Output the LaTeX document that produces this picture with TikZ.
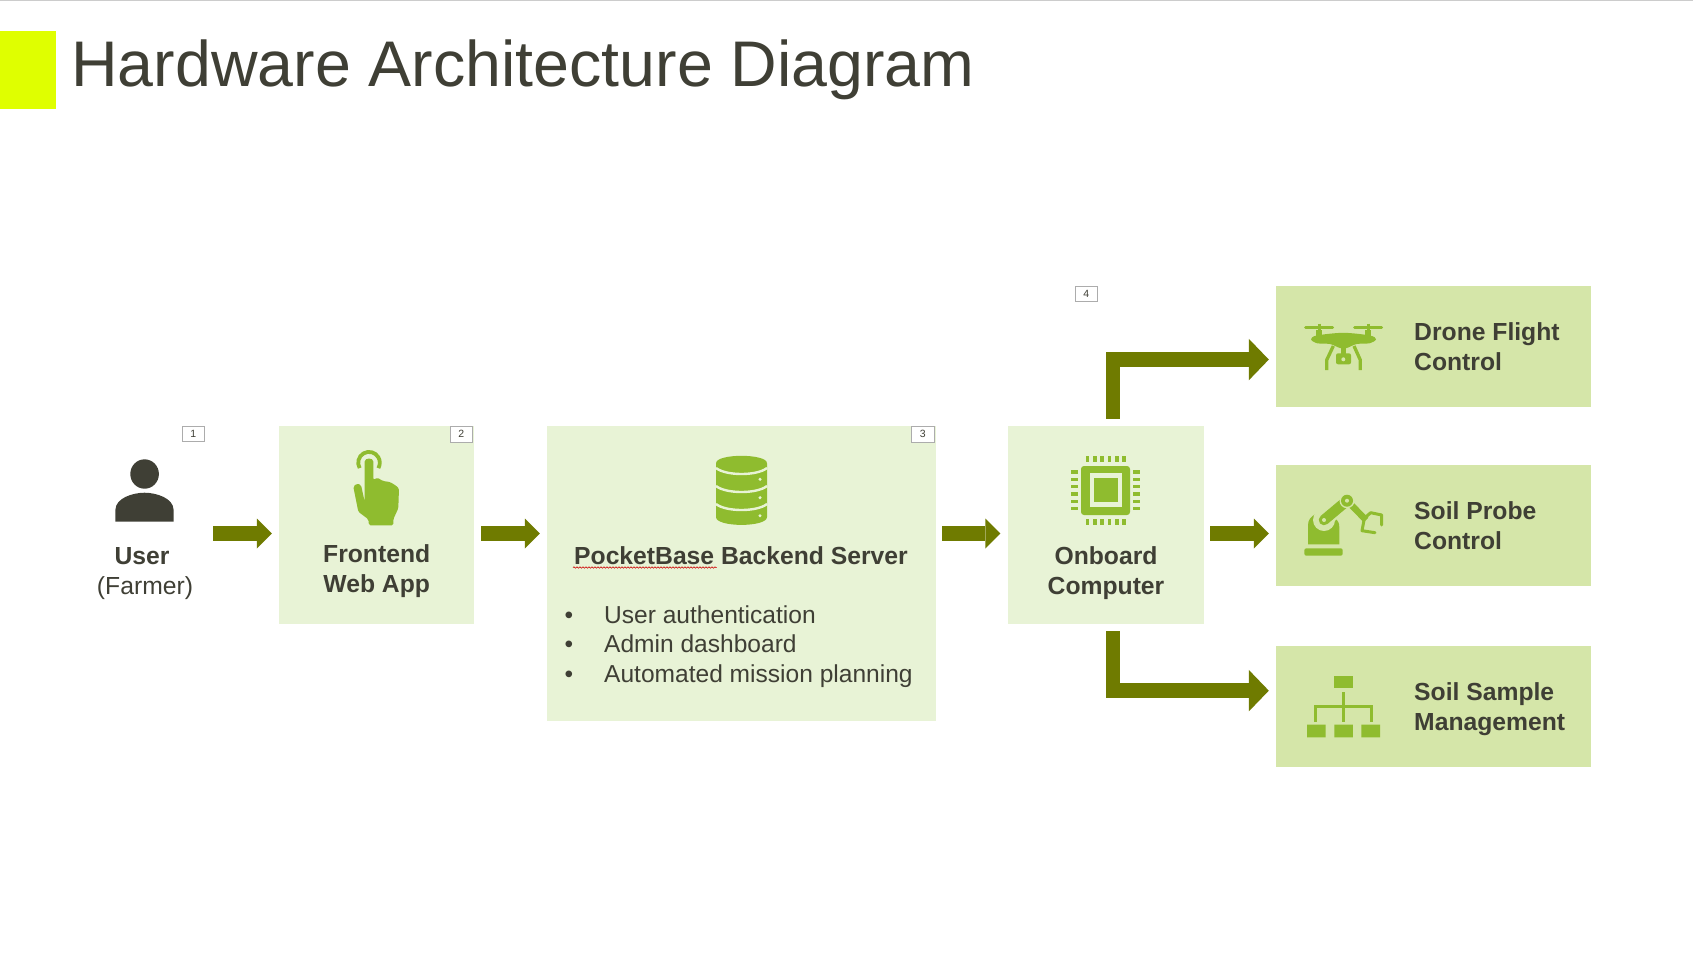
\documentclass[tikz,border=0pt]{standalone}
\usepackage{fontspec}
\setmainfont{Liberation Sans}
\usetikzlibrary{arrows.meta,positioning,calc,decorations.pathmorphing}

\definecolor{inktext}{HTML}{3F3F35}
\definecolor{accentyellow}{HTML}{DFFF00}
\definecolor{arrowolive}{HTML}{6F7B00}
\definecolor{iconleaf}{HTML}{8FBC2F}
\definecolor{panelpale}{HTML}{E8F3D6}
\definecolor{paneldeep}{HTML}{D5E6A9}

\begin{document}
\begin{tikzpicture}[
  x=1pt, y=-1pt,
  panel/.style={fill=panelpale, inner sep=0pt, minimum width=#1, minimum height=197.7pt},
  taskbox/.style={fill=paneldeep, inner sep=0pt, minimum width=315pt, minimum height=120.7pt},
  tagbox/.style={draw=gray!65, fill=white, inner sep=0pt, minimum width=22.5pt, minimum height=15.7pt, font=\fontsize{10.5}{12}\selectfont, text=inktext},
  headtext/.style={font=\fontsize{24.7}{30}\selectfont\bfseries, text=inktext, inner sep=0pt},
  listtext/.style={font=\fontsize{24.55}{29.85}\selectfont, text=inktext, inner sep=0pt},
  blockarr/.style={line width=15pt, arrowolive, -{Triangle[width=30pt,length=15pt,line width=0pt]}},
  elbowarr/.style={line width=14.4pt, arrowolive, -{Triangle[width=41.5pt,length=20pt,line width=0pt]}}
]
\useasboundingbox (0,0) rectangle (1693,954);

\fill[gray!40] (0,0) rectangle (1693,1);
\fill[accentyellow] (0,31) rectangle (56,109);
\node[anchor=base west, inner sep=0pt, text=inktext, font=\fontsize{64.5}{70}\selectfont] (title) at (71.2,86.5) {Hardware Architecture Diagram};

% boxes
\node[panel=195pt] (frontendbox) at (376.5,525) {};
\node[panel=389pt, minimum height=295pt] (backendbox) at (741.5,573.5) {};
\node[panel=196pt] (onboardbox) at (1106,525) {};
\node[taskbox] (dronebox) at (1433.5,346.35) {};
\node[taskbox, below=58.3pt of dronebox] (probebox) {};
\node[taskbox, below=59.8pt of probebox] (samplebox) {};

\node[tagbox] (tagone) at (193.3,433.8) {1};
\node[tagbox, below left=0pt and 1.5pt of frontendbox.north east] (tagtwo) {2};
\node[tagbox, below left=0pt and 2pt of backendbox.north east] (tagthree) {3};
\node[tagbox] (tagfour) at (1086.3,293.8) {4};

% labels
\node[headtext, anchor=base, align=center] (user) at (145,594) {\hspace*{-6pt}User\\\mdseries(Farmer)};
\node[headtext, anchor=base, align=center] (frontend) at (376.7,592.7) {Frontend\\Web App};
\node[headtext, anchor=base] (backend) at (741,564) {PocketBase Backend Server};
\node[listtext, anchor=base west, align=left] (features) at (564.5,682.7)
  {\makebox[39.5pt][l]{\textbullet}User authentication\\\makebox[39.5pt][l]{\textbullet}Admin dashboard\\\makebox[39.5pt][l]{\textbullet}Automated mission planning};
\node[headtext, anchor=base, align=center] (onboard) at (1106,594) {Onboard\\Computer};
\node[headtext, anchor=base west, align=left] (drone) at (1414,370.3) {Drone Flight\\Control};
\node[headtext, anchor=base west, align=left] (probe) at (1414,549.3) {Soil Probe\\Control};
\node[headtext, anchor=base west, align=left] (sample) at (1414,730.3) {Soil Sample\\Management};
\draw[red!80!black, line width=0.6pt, decorate, decoration={snake, segment length=3pt, amplitude=0.7pt}] (573,567.5) -- (716.5,567.5);

% connectors
\coordinate (flow) at (0,533.5);
\draw[blockarr, shorten <=20pt, shorten >=7pt] (user.east |- flow) -- (frontendbox.west |- flow);
\draw[blockarr, shorten <=7pt, shorten >=7pt] (frontendbox.east |- flow) -- (backendbox.west |- flow);
\draw[blockarr, shorten <=6pt, shorten >=7.5pt] (backendbox.east |- flow) -- (onboardbox.west |- flow);
\draw[blockarr, shorten <=6pt, shorten >=7pt] (onboardbox.east |- flow) -- (probebox.west |- flow);
\draw[elbowarr, shorten <=7.3pt, shorten >=7pt] ([xshift=7pt]onboardbox.north) |- ([yshift=-13.2pt]dronebox.west);
\draw[elbowarr, shorten <=7.3pt, shorten >=7pt] ([xshift=7pt]onboardbox.south) |- ([yshift=16pt]samplebox.west);

% user icon
\fill[inktext] (144.6,474) ellipse [x radius=14.3, y radius=14.7];
\fill[inktext] (115.4,521.7) -- (115.4,510) .. controls (115.4,498) and (133,492.7) .. (144.5,492.7) .. controls (156,492.7) and (173.6,498) .. (173.6,510) -- (173.6,521.7) -- cycle;

% hand icon
\draw[iconleaf, line width=3.8pt] (359.65,468.1) arc [start angle=-210, end angle=30, radius=10.8];
\fill[panelpale] (369,464) circle [radius=6.2];
\fill[iconleaf, rounded corners=1.5pt] (364.7,501.7) -- (364.7,463) .. controls (364.7,457.5) and (373.3,457.5) .. (373.3,463) -- (373.3,480) -- (377.3,477.7) -- (383,481) -- (390,482) -- (395,485) -- (399,488.3) -- (398.3,508.3) -- (393.3,519.3) -- (393.3,525.3) -- (369,525.3) -- (368.3,519.3) -- (358.3,511.7) -- (353.3,486.7) -- (357,483.5) -- (361,485) -- cycle;

% database icon
\fill[iconleaf] (716,463.3) .. controls (716,453.3) and (767,453.3) .. (767,463.3) -- (767,517) .. controls (767,527.5) and (716,527.5) .. (716,517) -- cycle;
\draw[panelpale, line width=2.4pt] (716,468) .. controls (726,476) and (757,476) .. (767,468);
\draw[panelpale, line width=2.4pt] (716,486) .. controls (726,494) and (757,494) .. (767,486);
\draw[panelpale, line width=2.4pt] (716,504) .. controls (726,512) and (757,512) .. (767,504);
\fill[panelpale] (760,479.3) circle [radius=1.7] (760,497.7) circle [radius=1.7] (760,515.7) circle [radius=1.7];

% chip icon
\fill[iconleaf, rounded corners=3pt] (1081,466) rectangle (1130,515);
\fill[panelpale] (1090,473.3) rectangle (1122,506.7);
\fill[iconleaf] (1094,478.3) rectangle (1117.6,502.3);
\foreach \i in {0,...,5} {
  \fill[iconleaf] ({1085.7+7.35*\i},456) rectangle ++(3.7,6.3);
  \fill[iconleaf] ({1085.7+7.35*\i},518.7) rectangle ++(3.7,6.3);
  \fill[iconleaf] (1070.8,{470.3+7.33*\i}) rectangle ++(6.9,3.4);
  \fill[iconleaf] (1133,{470.3+7.33*\i}) rectangle ++(6.9,3.4);
}

% drone icon
\draw[iconleaf, line width=3pt, line cap=round] (1305.5,327.3) -- (1332.5,327.3) (1354.5,327.3) -- (1381.5,327.3);
\draw[iconleaf, line width=3pt] (1319,323.5) -- (1319,331) (1368,323.5) -- (1368,331);
\draw[iconleaf, line width=6pt] (1319,330) -- (1319,337) (1368,330) -- (1368,337);
\fill[iconleaf] plot[smooth cycle] coordinates {(1311,339.3) (1316.7,335.5) (1343.3,332.8) (1370,335.5) (1376,339.3) (1370,343.2) (1356.7,344) (1346.7,348) (1340,348) (1330,344) (1316.7,343.2)};
\draw[iconleaf, line width=3.3pt] (1333.3,346) -- (1326.7,360) -- (1326.7,370);
\draw[iconleaf, line width=3.3pt] (1354,346) -- (1360.3,360) -- (1360.3,370);
\draw[iconleaf, line width=5pt] (1343.3,345) -- (1343.3,354);
\fill[iconleaf, rounded corners=2pt] (1336,353.3) rectangle (1351,364.3);
\fill[paneldeep] (1343.3,359.3) circle [radius=2];

% robot arm icon
\fill[iconleaf, rounded corners=2pt] (1304.3,555.7) -- (1304.3,548.3) -- (1342.7,548.3) -- (1342.7,555.7) -- cycle;
\fill[iconleaf] (1308,544.3) -- (1308,525) .. controls (1308,520) and (1311,516) .. (1316,514) -- (1335,518) .. controls (1338,521) and (1339.3,523) .. (1339.3,527) -- (1339.3,544.3) -- cycle;
\draw[paneldeep, line width=15pt, line cap=round] (1324,520) -- (1335,511);
\fill[paneldeep] (1324,520) circle [radius=11];
\draw[iconleaf, line width=10.5pt, line cap=round] (1324,520) -- (1347,500.7);
\draw[iconleaf, line width=6.5pt] (1347,500.7) -- (1366,520);
\fill[paneldeep] (1347,500.7) circle [radius=7.5];
\fill[iconleaf] (1347,500.7) circle [radius=6];
\fill[paneldeep] (1347,500.7) circle [radius=2] (1324,520) circle [radius=2];
\draw[iconleaf, line width=3pt, line cap=round, line join=round] (1364,520) -- (1362,530.7) -- (1375,532.7);
\draw[iconleaf, line width=3pt, line cap=round, line join=round] (1366,516.7) -- (1370.7,512.7) -- (1381.7,515) -- (1381.7,525);

% sample tree icon
\fill[iconleaf] (1334.3,675.7) rectangle (1352.9,688.3);
\fill[iconleaf] (1307,724.7) rectangle (1325.7,737.3) (1334.3,724.7) rectangle (1352.9,737.3) (1361.4,724.7) rectangle (1380,737.3);
\draw[iconleaf, line width=3pt] (1343.6,692) -- (1343.6,721.7);
\draw[iconleaf, line width=3pt] (1315.7,721.7) -- (1315.7,706.6) -- (1371.4,706.6) -- (1371.4,721.7);

\end{tikzpicture}
\end{document}
